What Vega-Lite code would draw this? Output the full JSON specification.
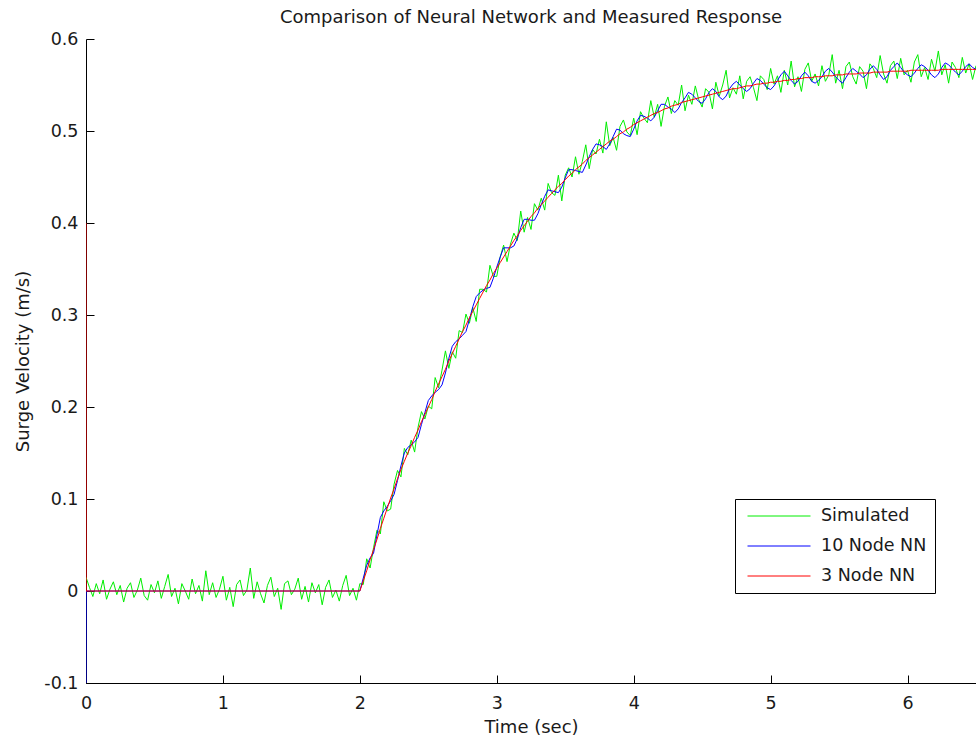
{
"$schema": "https://vega.github.io/schema/vega-lite/v6.json",
"width": 890,
"height": 644,
"autosize": "none",
"padding": {"left": 86, "top": 39, "right": 0, "bottom": 57},
"background": "white",
"title": {"text": "Comparison of Neural Network and Measured Response", "frame": "group", "anchor": "middle", "font": "DejaVu Sans", "fontSize": 18, "fontWeight": "normal", "color": "#1a1a1a", "offset": 3},
"data": {"values": [
{"t":0,"sim":0.015,"nn10":-0.1,"nn3":0.4},
{"t":0.001,"nn10":0,"nn3":0},
{"t":0.025,"sim":0.004},{"t":0.05,"sim":-0.006},{"t":0.075,"sim":0.008},{"t":0.1,"sim":-0.003},{"t":0.125,"sim":0.012},{"t":0.15,"sim":-0.009},{"t":0.175,"sim":0.002},{"t":0.2,"sim":0.01},{"t":0.225,"sim":-0.004},{"t":0.25,"sim":0.006},{"t":0.275,"sim":-0.012},{"t":0.3,"sim":0.003},{"t":0.325,"sim":0.009},{"t":0.35,"sim":-0.007},{"t":0.375,"sim":0.001},{"t":0.4,"sim":0.014},{"t":0.425,"sim":-0.005},{"t":0.45,"sim":-0.01},{"t":0.475,"sim":0.007},{"t":0.5,"sim":-0.002},{"t":0.525,"sim":0.011},{"t":0.55,"sim":-0.008},{"t":0.575,"sim":0.005},{"t":0.6,"sim":0.018},{"t":0.625,"sim":-0.006},{"t":0.65,"sim":0.003},{"t":0.675,"sim":-0.014},{"t":0.7,"sim":0.008},{"t":0.725,"sim":0},{"t":0.75,"sim":-0.009},{"t":0.775,"sim":0.013},{"t":0.8,"sim":-0.003},{"t":0.825,"sim":0.006},{"t":0.85,"sim":-0.011},{"t":0.875,"sim":0.022},{"t":0.9,"sim":-0.004},{"t":0.925,"sim":0.009},{"t":0.95,"sim":-0.007},{"t":0.975,"sim":0.002},
{"t":1,"sim":0.016},{"t":1.025,"sim":-0.01},{"t":1.05,"sim":0.004},{"t":1.075,"sim":-0.017},{"t":1.1,"sim":0.007},{"t":1.125,"sim":0.012},{"t":1.15,"sim":-0.005},{"t":1.175,"sim":0.001},{"t":1.2,"sim":0.025},{"t":1.225,"sim":-0.008},{"t":1.25,"sim":0.01},{"t":1.275,"sim":-0.003},{"t":1.3,"sim":-0.013},{"t":1.325,"sim":0.006},{"t":1.35,"sim":0.015},{"t":1.375,"sim":-0.006},{"t":1.4,"sim":0.003},{"t":1.425,"sim":-0.02},{"t":1.45,"sim":0.008},{"t":1.475,"sim":0.011},{"t":1.5,"sim":-0.004},{"t":1.525,"sim":0.002},{"t":1.55,"sim":0.014},{"t":1.575,"sim":-0.009},{"t":1.6,"sim":0.005},{"t":1.625,"sim":-0.012},{"t":1.65,"sim":0.009},{"t":1.675,"sim":-0.002},{"t":1.7,"sim":0.007},{"t":1.725,"sim":-0.015},{"t":1.75,"sim":0.004},{"t":1.775,"sim":0.012},{"t":1.8,"sim":-0.007},{"t":1.825,"sim":0.001},{"t":1.85,"sim":-0.011},{"t":1.875,"sim":0.006},{"t":1.9,"sim":0.017},{"t":1.925,"sim":-0.005},{"t":1.95,"sim":0.003},{"t":1.975,"sim":-0.01},
{"t":2,"sim":0.008,"nn10":0,"nn3":0},
{"t":2.025,"sim":0.007,"nn10":0.014,"nn3":0.011},
{"t":2.05,"sim":0.035,"nn10":0.028,"nn3":0.022},
{"t":2.075,"sim":0.025,"nn10":0.036,"nn3":0.034},
{"t":2.1,"sim":0.047,"nn10":0.041,"nn3":0.045},
{"t":2.125,"sim":0.066,"nn10":0.061,"nn3":0.056},
{"t":2.15,"sim":0.062,"nn10":0.08,"nn3":0.068},
{"t":2.175,"sim":0.097,"nn10":0.087,"nn3":0.079},
{"t":2.2,"sim":0.087,"nn10":0.092,"nn3":0.09},
{"t":2.225,"sim":0.089,"nn10":0.098,"nn3":0.101},
{"t":2.25,"sim":0.116,"nn10":0.105,"nn3":0.111},
{"t":2.275,"sim":0.131,"nn10":0.12,"nn3":0.122},
{"t":2.3,"sim":0.124,"nn10":0.136,"nn3":0.132},
{"t":2.325,"sim":0.155,"nn10":0.15,"nn3":0.141},
{"t":2.35,"sim":0.148,"nn10":0.156,"nn3":0.15},
{"t":2.375,"sim":0.164,"nn10":0.159,"nn3":0.158},
{"t":2.4,"sim":0.151,"nn10":0.162,"nn3":0.167},
{"t":2.425,"sim":0.178,"nn10":0.167,"nn3":0.175},
{"t":2.45,"sim":0.195,"nn10":0.181,"nn3":0.184},
{"t":2.475,"sim":0.187,"nn10":0.194,"nn3":0.192},
{"t":2.5,"sim":0.201,"nn10":0.207,"nn3":0.2},
{"t":2.525,"sim":0.198,"nn10":0.212,"nn3":0.208},
{"t":2.55,"sim":0.232,"nn10":0.216,"nn3":0.217},
{"t":2.575,"sim":0.221,"nn10":0.219,"nn3":0.225},
{"t":2.6,"sim":0.24,"nn10":0.224,"nn3":0.233},
{"t":2.625,"sim":0.261,"nn10":0.237,"nn3":0.241},
{"t":2.65,"sim":0.242,"nn10":0.253,"nn3":0.25},
{"t":2.675,"sim":0.26,"nn10":0.266,"nn3":0.258},
{"t":2.7,"sim":0.253,"nn10":0.271,"nn3":0.266},
{"t":2.725,"sim":0.283,"nn10":0.274,"nn3":0.274},
{"t":2.75,"sim":0.281,"nn10":0.278,"nn3":0.282},
{"t":2.775,"sim":0.301,"nn10":0.282,"nn3":0.289},
{"t":2.8,"sim":0.291,"nn10":0.295,"nn3":0.297},
{"t":2.825,"sim":0.308,"nn10":0.309,"nn3":0.304},
{"t":2.85,"sim":0.293,"nn10":0.32,"nn3":0.311},
{"t":2.875,"sim":0.328,"nn10":0.324,"nn3":0.318},
{"t":2.9,"sim":0.328,"nn10":0.327,"nn3":0.325},
{"t":2.925,"sim":0.325,"nn10":0.329,"nn3":0.332},
{"t":2.95,"sim":0.354,"nn10":0.33,"nn3":0.338},
{"t":2.975,"sim":0.342,"nn10":0.34,"nn3":0.345},
{"t":3,"sim":0.342,"nn10":0.352,"nn3":0.351},
{"t":3.025,"sim":0.363,"nn10":0.363,"nn3":0.357},
{"t":3.05,"sim":0.376,"nn10":0.373,"nn3":0.363},
{"t":3.075,"sim":0.358,"nn10":0.373,"nn3":0.369},
{"t":3.1,"sim":0.377,"nn10":0.373,"nn3":0.375},
{"t":3.125,"sim":0.389,"nn10":0.375,"nn3":0.381},
{"t":3.15,"sim":0.381,"nn10":0.383,"nn3":0.386},
{"t":3.175,"sim":0.413,"nn10":0.395,"nn3":0.392},
{"t":3.2,"sim":0.39,"nn10":0.404,"nn3":0.397},
{"t":3.225,"sim":0.406,"nn10":0.404,"nn3":0.402},
{"t":3.25,"sim":0.393,"nn10":0.403,"nn3":0.407},
{"t":3.275,"sim":0.421,"nn10":0.403,"nn3":0.411},
{"t":3.3,"sim":0.414,"nn10":0.41,"nn3":0.416},
{"t":3.325,"sim":0.427,"nn10":0.42,"nn3":0.42},
{"t":3.35,"sim":0.414,"nn10":0.429,"nn3":0.424},
{"t":3.375,"sim":0.443,"nn10":0.436,"nn3":0.428},
{"t":3.4,"sim":0.433,"nn10":0.435,"nn3":0.432},
{"t":3.425,"sim":0.43,"nn10":0.434,"nn3":0.436},
{"t":3.45,"sim":0.452,"nn10":0.433,"nn3":0.44},
{"t":3.475,"sim":0.424,"nn10":0.439,"nn3":0.443},
{"t":3.5,"sim":0.452,"nn10":0.449,"nn3":0.447},
{"t":3.525,"sim":0.46,"nn10":0.458,"nn3":0.451},
{"t":3.55,"sim":0.45,"nn10":0.458,"nn3":0.454},
{"t":3.575,"sim":0.472,"nn10":0.457,"nn3":0.458},
{"t":3.6,"sim":0.453,"nn10":0.456,"nn3":0.461},
{"t":3.625,"sim":0.467,"nn10":0.455,"nn3":0.464},
{"t":3.65,"sim":0.485,"nn10":0.463,"nn3":0.468},
{"t":3.675,"sim":0.459,"nn10":0.472,"nn3":0.471},
{"t":3.7,"sim":0.48,"nn10":0.48,"nn3":0.474},
{"t":3.725,"sim":0.475,"nn10":0.486,"nn3":0.477},
{"t":3.75,"sim":0.491,"nn10":0.485,"nn3":0.48},
{"t":3.775,"sim":0.476,"nn10":0.483,"nn3":0.483},
{"t":3.8,"sim":0.51,"nn10":0.48,"nn3":0.486},
{"t":3.825,"sim":0.484,"nn10":0.486,"nn3":0.489},
{"t":3.85,"sim":0.493,"nn10":0.494,"nn3":0.491},
{"t":3.875,"sim":0.479,"nn10":0.502,"nn3":0.494},
{"t":3.9,"sim":0.505,"nn10":0.501,"nn3":0.497},
{"t":3.925,"sim":0.512,"nn10":0.497,"nn3":0.499},
{"t":3.95,"sim":0.499,"nn10":0.495,"nn3":0.502},
{"t":3.975,"sim":0.495,"nn10":0.494,"nn3":0.504},
{"t":4,"sim":0.514,"nn10":0.502,"nn3":0.507},
{"t":4.025,"sim":0.496,"nn10":0.511,"nn3":0.509},
{"t":4.05,"sim":0.521,"nn10":0.517,"nn3":0.511},
{"t":4.075,"sim":0.514,"nn10":0.516,"nn3":0.513},
{"t":4.1,"sim":0.509,"nn10":0.514,"nn3":0.515},
{"t":4.125,"sim":0.533,"nn10":0.511,"nn3":0.517},
{"t":4.15,"sim":0.515,"nn10":0.515,"nn3":0.519},
{"t":4.175,"sim":0.529,"nn10":0.522,"nn3":0.52},
{"t":4.2,"sim":0.505,"nn10":0.529,"nn3":0.522},
{"t":4.225,"sim":0.527,"nn10":0.529,"nn3":0.524},
{"t":4.25,"sim":0.537,"nn10":0.526,"nn3":0.525},
{"t":4.275,"sim":0.519,"nn10":0.524,"nn3":0.527},
{"t":4.3,"sim":0.533,"nn10":0.52,"nn3":0.528},
{"t":4.325,"sim":0.528,"nn10":0.524,"nn3":0.529},
{"t":4.35,"sim":0.55,"nn10":0.531,"nn3":0.531},
{"t":4.375,"sim":0.522,"nn10":0.536,"nn3":0.532},
{"t":4.4,"sim":0.539,"nn10":0.542,"nn3":0.533},
{"t":4.425,"sim":0.529,"nn10":0.54,"nn3":0.534},
{"t":4.45,"sim":0.549,"nn10":0.536,"nn3":0.535},
{"t":4.475,"sim":0.534,"nn10":0.532,"nn3":0.536},
{"t":4.5,"sim":0.526,"nn10":0.53,"nn3":0.537},
{"t":4.525,"sim":0.546,"nn10":0.535,"nn3":0.538},
{"t":4.55,"sim":0.542,"nn10":0.542,"nn3":0.539},
{"t":4.575,"sim":0.524,"nn10":0.546,"nn3":0.54},
{"t":4.6,"sim":0.553,"nn10":0.543,"nn3":0.541},
{"t":4.625,"sim":0.538,"nn10":0.537,"nn3":0.542},
{"t":4.65,"sim":0.55,"nn10":0.534,"nn3":0.543},
{"t":4.675,"sim":0.566,"nn10":0.538,"nn3":0.544},
{"t":4.7,"sim":0.536,"nn10":0.546,"nn3":0.545},
{"t":4.725,"sim":0.547,"nn10":0.551,"nn3":0.546},
{"t":4.75,"sim":0.54,"nn10":0.554,"nn3":0.546},
{"t":4.775,"sim":0.56,"nn10":0.55,"nn3":0.547},
{"t":4.8,"sim":0.535,"nn10":0.546,"nn3":0.548},
{"t":4.825,"sim":0.554,"nn10":0.543,"nn3":0.549},
{"t":4.85,"sim":0.559,"nn10":0.546,"nn3":0.549},
{"t":4.875,"sim":0.547,"nn10":0.552,"nn3":0.55},
{"t":4.9,"sim":0.533,"nn10":0.557,"nn3":0.551},
{"t":4.925,"sim":0.56,"nn10":0.555,"nn3":0.551},
{"t":4.95,"sim":0.556,"nn10":0.551,"nn3":0.552},
{"t":4.975,"sim":0.545,"nn10":0.547,"nn3":0.552},
{"t":5,"sim":0.568,"nn10":0.545,"nn3":0.553},
{"t":5.025,"sim":0.551,"nn10":0.549,"nn3":0.553},
{"t":5.05,"sim":0.56,"nn10":0.555,"nn3":0.554},
{"t":5.075,"sim":0.542,"nn10":0.561,"nn3":0.554},
{"t":5.1,"sim":0.566,"nn10":0.565,"nn3":0.555},
{"t":5.125,"sim":0.55,"nn10":0.56,"nn3":0.555},
{"t":5.15,"sim":0.576,"nn10":0.555,"nn3":0.556},
{"t":5.175,"sim":0.548,"nn10":0.551,"nn3":0.556},
{"t":5.2,"sim":0.559,"nn10":0.554,"nn3":0.557},
{"t":5.225,"sim":0.543,"nn10":0.56,"nn3":0.557},
{"t":5.25,"sim":0.567,"nn10":0.564,"nn3":0.558},
{"t":5.275,"sim":0.574,"nn10":0.56,"nn3":0.558},
{"t":5.3,"sim":0.554,"nn10":0.554,"nn3":0.558},
{"t":5.325,"sim":0.562,"nn10":0.552,"nn3":0.559},
{"t":5.35,"sim":0.549,"nn10":0.555,"nn3":0.559},
{"t":5.375,"sim":0.571,"nn10":0.559,"nn3":0.559},
{"t":5.4,"sim":0.554,"nn10":0.565,"nn3":0.56},
{"t":5.425,"sim":0.561,"nn10":0.568,"nn3":0.56},
{"t":5.45,"sim":0.583,"nn10":0.564,"nn3":0.56},
{"t":5.475,"sim":0.552,"nn10":0.559,"nn3":0.561},
{"t":5.5,"sim":0.566,"nn10":0.555,"nn3":0.561},
{"t":5.525,"sim":0.546,"nn10":0.552,"nn3":0.561},
{"t":5.55,"sim":0.57,"nn10":0.558,"nn3":0.562},
{"t":5.575,"sim":0.575,"nn10":0.564,"nn3":0.562},
{"t":5.6,"sim":0.559,"nn10":0.568,"nn3":0.562},
{"t":5.625,"sim":0.551,"nn10":0.565,"nn3":0.562},
{"t":5.65,"sim":0.57,"nn10":0.562,"nn3":0.563},
{"t":5.675,"sim":0.565,"nn10":0.558,"nn3":0.563},
{"t":5.7,"sim":0.546,"nn10":0.561,"nn3":0.563},
{"t":5.725,"sim":0.573,"nn10":0.567,"nn3":0.563},
{"t":5.75,"sim":0.568,"nn10":0.571,"nn3":0.564},
{"t":5.775,"sim":0.558,"nn10":0.567,"nn3":0.564},
{"t":5.8,"sim":0.582,"nn10":0.561,"nn3":0.564},
{"t":5.825,"sim":0.562,"nn10":0.556,"nn3":0.564},
{"t":5.85,"sim":0.552,"nn10":0.559,"nn3":0.564},
{"t":5.875,"sim":0.571,"nn10":0.566,"nn3":0.565},
{"t":5.9,"sim":0.576,"nn10":0.57,"nn3":0.565},
{"t":5.925,"sim":0.557,"nn10":0.574,"nn3":0.565},
{"t":5.95,"sim":0.579,"nn10":0.569,"nn3":0.565},
{"t":5.975,"sim":0.561,"nn10":0.564,"nn3":0.565},
{"t":6,"sim":0.566,"nn10":0.561,"nn3":0.565},
{"t":6.025,"sim":0.553,"nn10":0.559,"nn3":0.566},
{"t":6.05,"sim":0.575,"nn10":0.563,"nn3":0.566},
{"t":6.075,"sim":0.583,"nn10":0.568,"nn3":0.566},
{"t":6.1,"sim":0.559,"nn10":0.572,"nn3":0.566},
{"t":6.125,"sim":0.569,"nn10":0.57,"nn3":0.566},
{"t":6.15,"sim":0.556,"nn10":0.566,"nn3":0.566},
{"t":6.175,"sim":0.578,"nn10":0.561,"nn3":0.566},
{"t":6.2,"sim":0.565,"nn10":0.558,"nn3":0.566},
{"t":6.225,"sim":0.587,"nn10":0.562,"nn3":0.566},
{"t":6.25,"sim":0.561,"nn10":0.569,"nn3":0.567},
{"t":6.275,"sim":0.572,"nn10":0.574,"nn3":0.567},
{"t":6.3,"sim":0.552,"nn10":0.572,"nn3":0.567},
{"t":6.325,"sim":0.575,"nn10":0.568,"nn3":0.567},
{"t":6.35,"sim":0.569,"nn10":0.564,"nn3":0.567},
{"t":6.375,"sim":0.558,"nn10":0.561,"nn3":0.567},
{"t":6.4,"sim":0.58,"nn10":0.565,"nn3":0.567},
{"t":6.425,"sim":0.563,"nn10":0.57,"nn3":0.567},
{"t":6.45,"sim":0.573,"nn10":0.573,"nn3":0.567},
{"t":6.475,"sim":0.556,"nn10":0.569,"nn3":0.567},
{"t":6.5,"sim":0.571,"nn10":0.567,"nn3":0.567}
]},
"transform": [{"fold": ["sim", "nn10", "nn3"], "as": ["series", "v"]}],
"mark": {"type": "line", "strokeWidth": 1, "clip": true, "invalid": "filter"},
"encoding": {
  "x": {"field": "t", "type": "quantitative",
        "scale": {"domain": [0, 6.5], "nice": false, "zero": false},
        "axis": {"title": "Time (sec)", "values": [0, 1, 2, 3, 4, 5, 6], "format": "d", "grid": false,
                 "domainColor": "#000", "tickColor": "#000", "tickSize": -8, "labelPadding": 19,
                 "labelFont": "DejaVu Sans", "labelFontSize": 17.5, "labelColor": "#1a1a1a", "labelFlush": false,
                 "titleFont": "DejaVu Sans", "titleFontSize": 18, "titleFontWeight": "normal", "titleColor": "#1a1a1a", "titlePadding": 7}},
  "y": {"field": "v", "type": "quantitative",
        "scale": {"domain": [-0.1, 0.6], "nice": false, "zero": false},
        "axis": {"title": "Surge Velocity (m/s)", "values": [-0.1, 0, 0.1, 0.2, 0.3, 0.4, 0.5, 0.6],
                 "labelExpr": "toString(round(datum.value*10)/10)", "grid": false,
                 "domainColor": "#000", "tickColor": "#000", "tickSize": -8, "labelPadding": 16,
                 "labelFont": "DejaVu Sans", "labelFontSize": 17.5, "labelColor": "#1a1a1a", "labelFlush": false,
                 "titleFont": "DejaVu Sans", "titleFontSize": 18, "titleFontWeight": "normal", "titleColor": "#1a1a1a", "titlePadding": 11}},
  "color": {"field": "series", "type": "nominal",
            "scale": {"domain": ["sim", "nn10", "nn3"], "range": ["#00ee00", "#0000ff", "#ff0000"]},
            "legend": {"title": null, "orient": "none", "legendX": 649, "legendY": 460, "direction": "vertical",
                       "symbolType": "stroke", "symbolSize": 3969, "symbolStrokeWidth": 1,
                       "labelExpr": "datum.value == 'sim' ? 'Simulated' : datum.value == 'nn10' ? '10 Node NN' : '3 Node NN'",
                       "labelFont": "DejaVu Sans", "labelFontSize": 17.5, "labelColor": "#1a1a1a",
                       "strokeColor": "#000", "fillColor": "#fff", "padding": 8, "symbolOffset": 4, "labelOffset": 10,
                       "rowPadding": 12, "clipHeight": 18}}
},
"config": {"view": {"stroke": null}, "axis": {"domainWidth": 1, "tickWidth": 1}}
}
